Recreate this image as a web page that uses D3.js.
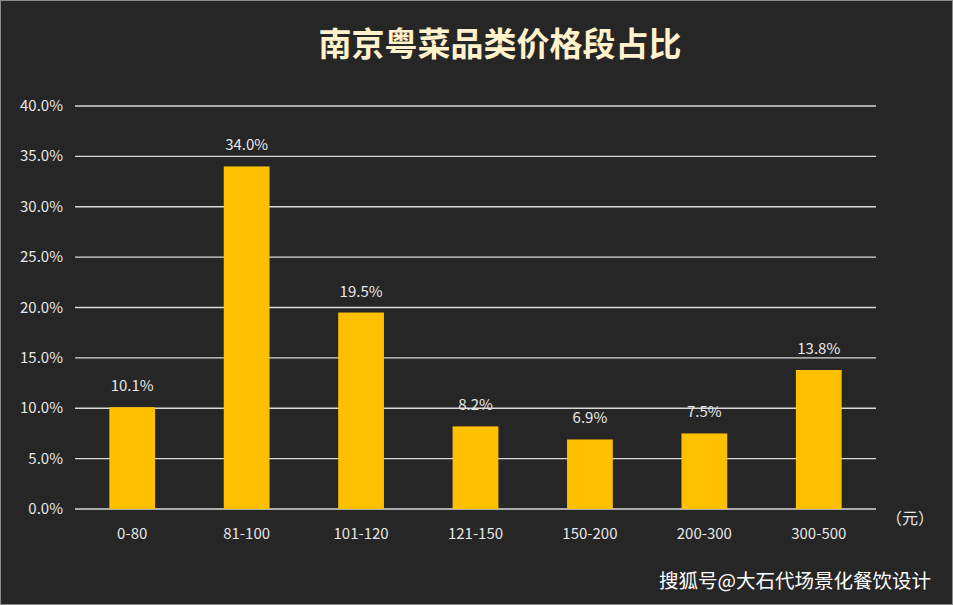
<!DOCTYPE html><html><head><meta charset="utf-8">
<script src="https://cdn.jsdelivr.net/npm/d3@7"></script>
<style>body{margin:0;background:#fff}svg{display:block}</style></head><body>
<script>
const categories=["0-80","81-100","101-120","121-150","150-200","200-300","300-500"];
const values=[10.1,34.0,19.5,8.2,6.9,7.5,13.8];
const yTicks=[0,5,10,15,20,25,30,35,40];
const W=953,H=605;
const svg=d3.select("body").append("svg").attr("width",W).attr("height",H);
const font="'Noto Sans CJK SC','Noto Sans',sans-serif";
svg.append("rect").attr("x",0.5).attr("y",0.5).attr("width",W-1).attr("height",H-1).attr("fill","#262626").attr("stroke","#8c8c8c");
svg.append("text").attr("x",500).attr("y",56).attr("text-anchor","middle").attr("fill","#fff2cc").attr("font-family",font).attr("font-size",33).attr("font-weight","bold").text("南京粤菜品类价格段占比");
const x=d3.scaleBand().domain(categories).range([75,876]).paddingInner(0.6).paddingOuter(0.3);
const y=d3.scaleLinear().domain([0,40]).range([509,106]);
const g=svg.append("g");
g.selectAll("line.grid").data(yTicks).join("line").attr("x1",75).attr("x2",876).attr("y1",d=>y(d)).attr("y2",d=>y(d)).attr("stroke","#d9d9d9").attr("stroke-width",1.3);
g.selectAll("text.yt").data(yTicks).join("text").attr("x",63).attr("y",d=>y(d)+5).attr("text-anchor","end").attr("fill","#e6e6e6").attr("font-family",font).attr("font-size",15).text(d=>d.toFixed(1)+"%");
g.selectAll("rect.bar").data(values).join("rect").attr("x",(d,i)=>x(categories[i])).attr("width",x.bandwidth()).attr("y",d=>y(d)).attr("height",d=>y(0)-y(d)).attr("fill","#ffc000");
g.selectAll("text.lab").data(values).join("text").attr("x",(d,i)=>x(categories[i])+x.bandwidth()/2).attr("y",d=>y(d)-16).attr("text-anchor","middle").attr("fill","#e6e6e6").attr("font-family",font).attr("font-size",15).text(d=>d.toFixed(1)+"%");
g.selectAll("text.xt").data(categories).join("text").attr("x",d=>x(d)+x.bandwidth()/2).attr("y",539).attr("text-anchor","middle").attr("fill","#e6e6e6").attr("font-family",font).attr("font-size",15).text(d=>d);
svg.append("text").attr("x",910).attr("y",524).attr("text-anchor","middle").attr("fill","#e6e6e6").attr("font-family",font).attr("font-size",16).text("（元）");
svg.append("text").attr("x",931).attr("y",588).attr("text-anchor","end").attr("fill","#ffffff").attr("font-family",font).attr("font-size",19.5).text("搜狐号@大石代场景化餐饮设计");
</script></body></html>
